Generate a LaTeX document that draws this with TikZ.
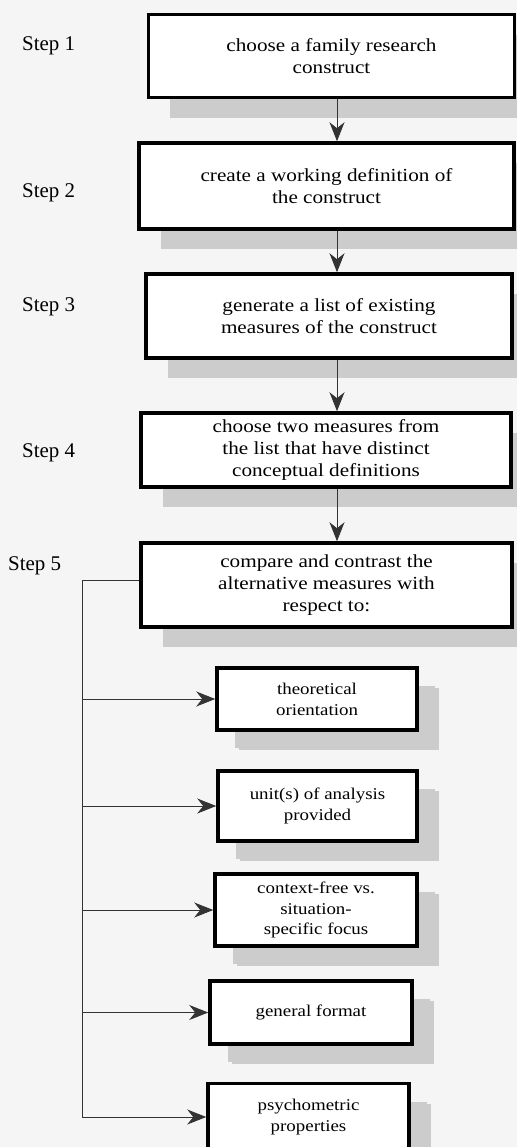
\documentclass[tikz,border=0pt]{standalone}
\usepackage{fontspec}
\setmainfont{Liberation Serif}
\newfontfamily\boxfont{Liberation Serif}[FakeStretch=1.15]
\usetikzlibrary{arrows.meta,shadows}
\tikzset{>={Stealth[length=19bp,width=15bp,inset=6bp]}}
\tikzset{stepbox/.style={shape=rectangle, draw, line width=3.5bp, fill=white,
    align=center, inner sep=2bp, font=\boxfont\fontsize{18.5}{22}\selectfont,
    drop shadow={shadow xshift=22bp, shadow yshift=-20bp, fill=black!20,
      opacity=1}}}
\tikzset{subbox/.style={stepbox, font=\boxfont\fontsize{16.5}{21}\selectfont,
    drop shadow={shadow xshift=18bp, shadow yshift=-18bp, fill=black!20,
      opacity=1}}}
\tikzset{steplabel/.style={anchor=west, inner sep=0pt,
    font=\fontsize{21}{24}\selectfont}}
\tikzset{link/.style={line width=1bp, draw=black!80}}

\begin{document}
\begin{tikzpicture}[x=1bp, y=-1bp]
    \useasboundingbox (0,0) rectangle (517,1147);
    \fill[black!4] (0,0) rectangle (517,1147);

    \coordinate (spine) at (337,0);
    \coordinate (trunk) at (82,580);

    \node[stepbox, minimum width=366bp, minimum height=83bp] (b1) at (331.5,56)
      {choose a family research\\construct};
    \node[stepbox, minimum width=375bp, minimum height=86bp] (b2) at (326.5,186)
      {create a working definition of\\the construct};
    \node[stepbox, minimum width=366bp, minimum height=84bp] (b3) at (329,316)
      {generate a list of existing\\measures of the construct};
    \node[stepbox, minimum width=370bp, minimum height=74bp] (b4) at (326,450)
      {choose two measures from\\the list that have distinct\\conceptual definitions};
    \node[stepbox, minimum width=371bp, minimum height=84bp] (b5) at (326.5,585)
      {compare and contrast the\\alternative measures with\\respect to:};

    \node[steplabel] (st1) at (22,46) {Step 1};
    \node[steplabel] (st2) at (22,193) {Step 2};
    \node[steplabel] (st3) at (22,307) {Step 3};
    \node[steplabel] (st4) at (22,453) {Step 4};
    \node[steplabel] (st5) at (8,566) {Step 5};

    \node[subbox, minimum width=200bp, minimum height=62bp] (s1) at (317,699)
      {theoretical\\orientation};
    \node[subbox, minimum width=199bp, minimum height=70bp] (s2) at (317.5,806)
      {unit(s) of analysis\\provided};
    \node[subbox, minimum width=202bp, minimum height=72bp] (s3) at (316,910)
      {context-free vs.\\situation-\\specific focus};
    \node[subbox, minimum width=202bp, minimum height=63bp] (s4) at (311,1012.5)
      {general format};
    \node[subbox, minimum width=201bp, minimum height=67bp] (s5) at (308.5,1117)
      {psychometric\\properties};

    % steps
    \draw[link, ->] (b1.south -| spine) -- (b2.north -| spine);
    \draw[link, ->] (b2.south -| spine) -- (b3.north -| spine);
    \draw[link, ->] (b3.south -| spine) -- (b4.north -| spine);
    \draw[link, ->] (b4.south -| spine) -- (b5.north -| spine);

    % criteria
    \draw[link] (b5.west |- trunk) -- (trunk) -- (trunk |- s5);
    \foreach \s in {s1,s2,s3,s4,s5}
    \draw[link, ->] (trunk |- \s) -- (\s);
\end{tikzpicture}
\end{document}
